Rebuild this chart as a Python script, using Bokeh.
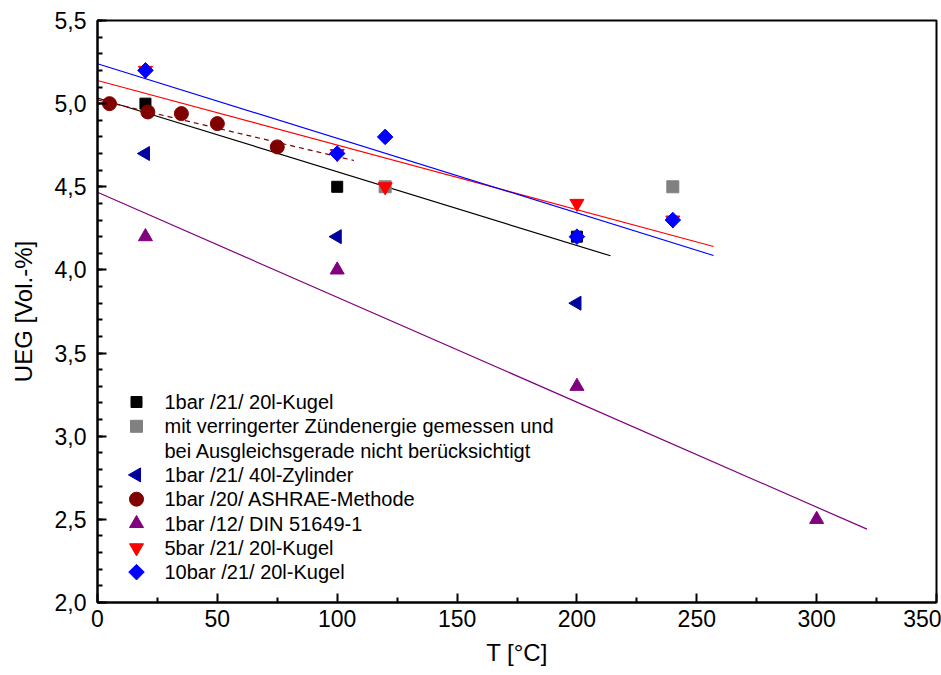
from bokeh.plotting import figure
from bokeh.models import Range1d, FixedTicker
from bokeh.core.properties import value
from bokeh.embed import file_html
from bokeh.resources import INLINE

# ---- data ----
kugel1_T = [20, 100, 200]
kugel1_UEG = [5.0, 4.5, 4.2]

reduced_T = [120, 240]
reduced_UEG = [4.5, 4.5]

zyl_T = [20, 100, 200]
zyl_UEG = [4.7, 4.2, 3.8]

ashrae_T = [5, 21, 35, 50, 75]
ashrae_UEG = [5.0, 4.95, 4.94, 4.88, 4.74]

din_T = [20, 100, 200, 300]
din_UEG = [4.2, 4.0, 3.3, 2.5]

kugel5_T = [20, 100, 120, 200, 240]
kugel5_UEG = [5.2, 4.7, 4.5, 4.4, 4.3]

kugel10_T = [20, 100, 120, 200, 240]
kugel10_UEG = [5.2, 4.7, 4.8, 4.2, 4.3]

# fitted lines (end points)
fit_kugel1_T = [0, 214]
fit_kugel1_UEG = [5.034, 4.085]
fit_ashrae_T = [0, 107]
fit_ashrae_UEG = [5.023, 4.658]
fit_din_T = [0, 321]
fit_din_UEG = [4.467, 2.441]
fit_kugel5_T = [0, 257]
fit_kugel5_UEG = [5.139, 4.141]
fit_kugel10_T = [0, 257]
fit_kugel10_UEG = [5.24, 4.087]

legend_labels = [
    "1bar /21/ 20l-Kugel",
    "mit verringerter Zündenergie gemessen und",
    "bei Ausgleichsgerade nicht berücksichtigt",
    "1bar /21/ 40l-Zylinder",
    "1bar /20/ ASHRAE-Methode",
    "1bar /12/ DIN 51649-1",
    "5bar /21/ 20l-Kugel",
    "10bar /21/ 20l-Kugel",
]

x_ticks = [0, 50, 100, 150, 200, 250, 300, 350]
y_ticks = [2.0, 2.5, 3.0, 3.5, 4.0, 4.5, 5.0, 5.5]
y_tick_labels = ["2,0", "2,5", "3,0", "3,5", "4,0", "4,5", "5,0", "5,5"]

# ---- styling / layout ----
FONT = "Liberation Sans"
NARROW = "Liberation Sans Narrow, Liberation Sans, sans-serif"
W, H = 941, 675
BL, BR, BT, BB = 97, 5, 20, 73
XMIN, XMAX, YMIN, YMAX = 0, 350, 2.0, 5.5
FW, FH = W - BL - BR, H - BT - BB

p = figure(width=W, height=H, output_backend="svg", toolbar_location=None,
           x_range=Range1d(XMIN, XMAX), y_range=Range1d(YMIN, YMAX),
           min_border_left=BL, min_border_right=BR, min_border_top=BT, min_border_bottom=BB)
p.background_fill_color = "white"
p.border_fill_color = "white"
p.outline_line_color = "black"
p.outline_line_width = 2
p.xgrid.visible = False
p.ygrid.visible = False

p.xaxis.ticker = FixedTicker(ticks=x_ticks, minor_ticks=[25, 75, 125, 175, 225, 275, 325])
p.yaxis.ticker = FixedTicker(ticks=y_ticks,
                             minor_ticks=[round(2.0 + 0.1 * i, 1) for i in range(36)])
p.yaxis.major_label_overrides = {v: s for v, s in zip(y_ticks, y_tick_labels)}
for ax in (p.xaxis, p.yaxis):
    ax.axis_line_width = 2
    ax.axis_line_color = "black"
    ax.major_tick_in = 9
    ax.major_tick_out = 0
    ax.minor_tick_in = 5
    ax.minor_tick_out = 0
    ax.major_tick_line_width = 2
    ax.minor_tick_line_width = 2
    ax.major_label_text_color = "black"
    ax.axis_label_text_color = "black"
    ax.axis_label_text_font_style = "normal"
p.xaxis.axis_label = "T [°C]"
p.yaxis.axis_label = "UEG [Vol.-%]"
p.xaxis.major_label_text_font = NARROW
p.xaxis.major_label_text_font_size = "23px"
p.xaxis.axis_label_text_font = NARROW
p.xaxis.axis_label_text_font_size = "24px"
p.xaxis.major_label_standoff = 7
p.xaxis.axis_label_standoff = 9
p.yaxis.major_label_text_font = FONT
p.yaxis.major_label_text_font_size = "23px"
p.yaxis.axis_label_text_font = FONT
p.yaxis.axis_label_text_font_size = "24px"
p.yaxis.major_label_standoff = 11
p.yaxis.axis_label_standoff = 15

# fit lines
p.line(fit_kugel1_T, fit_kugel1_UEG, line_color="black", line_width=1.2)
p.line(fit_ashrae_T, fit_ashrae_UEG, line_color="#800000", line_width=1.2, line_dash="5 4")
p.line(fit_din_T, fit_din_UEG, line_color="#800080", line_width=1.2)
p.line(fit_kugel5_T, fit_kugel5_UEG, line_color="#FF0000", line_width=1.2)
p.line(fit_kugel10_T, fit_kugel10_UEG, line_color="#0000FF", line_width=1.2)

# marker styles (one per series, same order as legend rows; None = text-only row)
styles = [
    dict(marker="square", size=11, angle=0.0, color="black"),
    dict(marker="square", size=12, angle=0.0, color="#808080"),
    None,
    dict(marker="triangle", size=14, angle=1.5708, color="#0000A0"),
    dict(marker="circle", size=14, angle=0.0, color="#800000"),
    dict(marker="triangle", size=14, angle=0.0, color="#800080"),
    dict(marker="inverted_triangle", size=14, angle=0.0, color="#FF0000"),
    dict(marker="square", size=11, angle=0.785398, color="#0000FF"),
]
series = [(kugel1_T, kugel1_UEG), (reduced_T, reduced_UEG), None, (zyl_T, zyl_UEG),
          (ashrae_T, ashrae_UEG), (din_T, din_UEG), (kugel5_T, kugel5_UEG),
          (kugel10_T, kugel10_UEG)]
for s, st in zip(series, styles):
    if s is None:
        continue
    p.scatter(s[0], s[1], marker=st["marker"], size=st["size"], angle=st["angle"],
              color=st["color"])

# ---- legend (drawn in the frame, positions from pixel layout) ----
def px_to_x(px):
    return XMIN + (px - BL) / FW * (XMAX - XMIN)

def py_to_y(py):
    return YMAX - (py - BT) / FH * (YMAX - YMIN)

LEG_GLYPH_PX = 136
LEG_TEXT_PX = 164
LEG_TOP_PX = 401.5
LEG_STEP_PX = 24.3

for i, (lab, st) in enumerate(zip(legend_labels, styles)):
    yy = py_to_y(LEG_TOP_PX + i * LEG_STEP_PX)
    if st is not None:
        p.scatter([px_to_x(LEG_GLYPH_PX)], [yy], marker=st["marker"], size=st["size"],
                  angle=st["angle"], color=st["color"])
    p.text([px_to_x(LEG_TEXT_PX)], [yy], text=[lab], text_font=value(FONT),
           text_font_size="20px", text_baseline="middle", text_align="left",
           text_color="black")

open("out.html", "w").write(file_html(p, INLINE))
